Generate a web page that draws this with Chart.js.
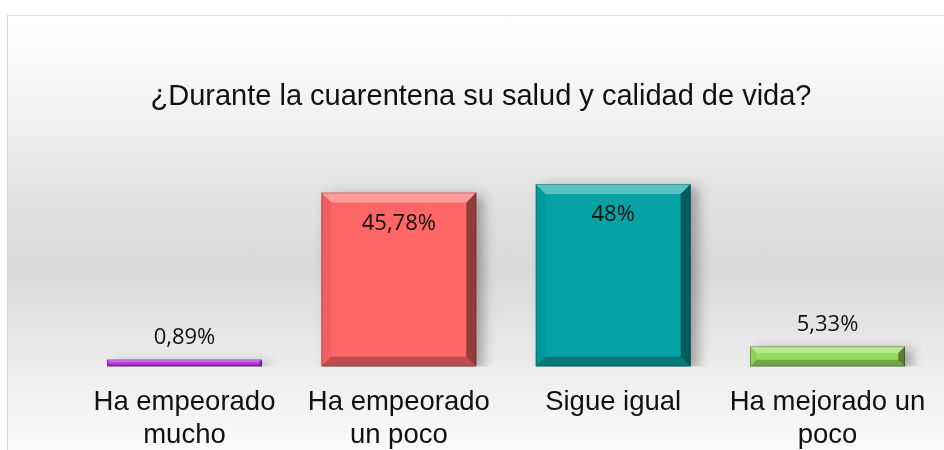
<!DOCTYPE html>
<html>
<head>
<meta charset="utf-8">
<script src="https://cdn.jsdelivr.net/npm/chart.js@4/dist/chart.umd.min.js"></script>
<style>
  html, body { margin: 0; padding: 0; overflow: hidden; background: #fff; }
  #box {
    position: absolute; left: 7px; top: 15px;
    width: 946px; height: 434px;
    border: 1px solid #d9d9d9;
    background: linear-gradient(to bottom, #ffffff 0%, #f1f1f1 24%, #e3e3e3 40%, #d9d9d9 58%, #eeeeee 82%, #fafafa 100%);
  }
</style>
</head>
<body>
<div id="box"><canvas id="chart-area" width="946" height="434"></canvas></div>
<script>
var categorias = [
    ['Ha empeorado', 'mucho'],
    ['Ha empeorado', 'un poco'],
    'Sigue igual',
    ['Ha mejorado un', 'poco']
];
var valores = [0.89, 45.78, 48, 5.33];
var colores = ['#BF3BE6', '#FF6666', '#05A3A3', '#98DC5C'];
var titulo = '¿Durante la cuarentena su salud y calidad de vida?';

function formato(v) {
    return String(v).replace('.', ',') + '%';
}

// sombra + bisel + etiquetas de datos
var efectos = {
    id: 'efectos',
    beforeDatasetsDraw: function(chart) {
        var ctx = chart.ctx;
        ctx.save();
        ctx.shadowColor = 'rgba(0,0,0,0.32)';
        ctx.shadowBlur = 12;
        ctx.shadowOffsetX = 7;
        ctx.shadowOffsetY = 3;
    },
    afterDatasetsDraw: function(chart) {
        var ctx = chart.ctx;
        ctx.restore();
        var meta = chart.getDatasetMeta(0);
        meta.data.forEach(function(bar, i) {
            var l = bar.x - bar.width / 2, r = bar.x + bar.width / 2;
            var t = bar.y, b = bar.base;
            var h = b - t;
            var e = Math.min(10, h / 3);
            ctx.save();
            // arriba
            ctx.fillStyle = 'rgba(255,255,255,0.35)';
            ctx.beginPath();
            ctx.moveTo(l, t); ctx.lineTo(r, t); ctx.lineTo(r - e, t + e); ctx.lineTo(l + e, t + e);
            ctx.fill();
            // izquierda
            ctx.fillStyle = 'rgba(0,0,0,0.06)';
            ctx.beginPath();
            ctx.moveTo(l, t); ctx.lineTo(l + e, t + e); ctx.lineTo(l + e, b - e); ctx.lineTo(l, b);
            ctx.fill();
            // derecha
            ctx.fillStyle = 'rgba(0,0,0,0.42)';
            ctx.beginPath();
            ctx.moveTo(r, t); ctx.lineTo(r, b); ctx.lineTo(r - e, b - e); ctx.lineTo(r - e, t + e);
            ctx.fill();
            // abajo
            ctx.fillStyle = 'rgba(0,0,0,0.25)';
            ctx.beginPath();
            ctx.moveTo(l, b); ctx.lineTo(r, b); ctx.lineTo(r - e, b - e); ctx.lineTo(l + e, b - e);
            ctx.fill();
            ctx.strokeStyle = 'rgba(0,0,0,0.25)';
            ctx.lineWidth = 1;
            ctx.strokeRect(l + 0.5, t + 0.5, r - l - 1, h - 1);
            ctx.restore();

            // etiqueta
            ctx.save();
            ctx.font = '22px "Open Sans"';
            ctx.fillStyle = '#111';
            ctx.textAlign = 'center';
            ctx.textBaseline = 'middle';
            var y = h > 60 ? t + 31 : t - 22;
            ctx.fillText(formato(valores[i]), bar.x, y);
            ctx.restore();
        });
    }
};

var config = {
    type: 'bar',
    data: {
        labels: categorias,
        datasets: [{
            data: valores,
            backgroundColor: colores,
            borderWidth: 0,
            barPercentage: 0.723,
            categoryPercentage: 1,
            minBarLength: 7
        }]
    },
    options: {
        responsive: false,
        animation: false,
        layout: { padding: 0 },
        plugins: {
            legend: { display: false },
            tooltip: { enabled: false },
            title: {
                display: true,
                text: titulo,
                color: '#111',
                font: { family: '"Liberation Sans", Arial', size: 29, weight: 'normal', lineHeight: 1.2 },
                padding: { top: 63.6, bottom: 62.1 }
            }
        },
        scales: {
            x: {
                grid: { display: false, drawTicks: false },
                border: { display: false },
                ticks: {
                    color: '#111',
                    padding: 19,
                    maxRotation: 0,
                    autoSkip: false,
                    font: { family: '"Liberation Sans", Arial', size: 27.5, lineHeight: 1.2 }
                },
                afterFit: function(s) { s.height = 83.5; }
            },
            y: {
                min: 0,
                max: 50,
                grid: { display: false },
                border: { display: false },
                ticks: { display: false },
                afterFit: function(s) { s.width = 69.3; }
            },
            y2: {
                position: 'right',
                min: 0,
                max: 50,
                grid: { display: false },
                border: { display: false },
                ticks: { display: false },
                afterFit: function(s) { s.width = 19.3; }
            }
        }
    },
    plugins: [efectos]
};

window.onload = function() {
    var ctx = document.getElementById('chart-area').getContext('2d');
    window.myBar = new Chart(ctx, config);
};
</script>
</body>
</html>
